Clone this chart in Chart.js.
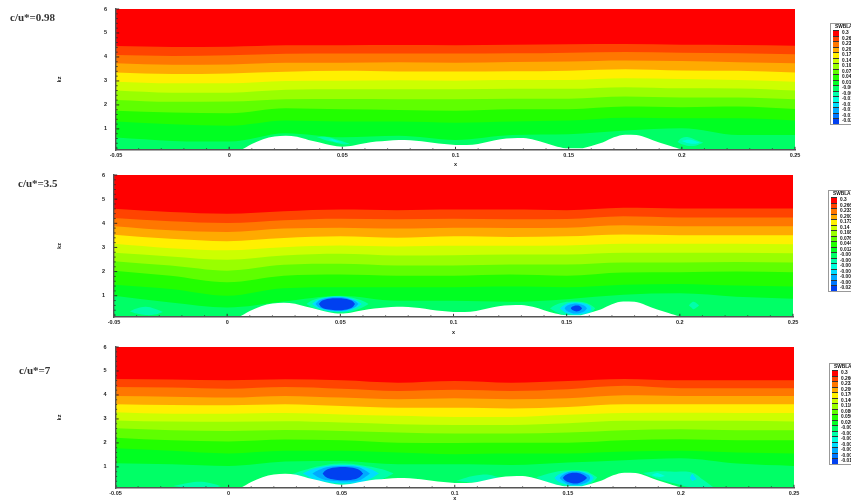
<!DOCTYPE html>
<html>
<head>
<meta charset="utf-8">
<script src="https://cdn.jsdelivr.net/npm/chart.js@4"></script>
<style>
html, body { margin: 0; padding: 0; background: #fff; width: 851px; height: 502px; overflow: hidden; }
canvas { position: absolute; left: 0; filter: blur(0.35px); }
.caption { position: absolute; font: bold 11px "Liberation Serif", serif; color: #333; white-space: nowrap; filter: blur(0.3px); }
.key { position: absolute; width: 42px; box-sizing: border-box; border: 1.5px solid #999; background: #fff; font: bold 4.8px "Liberation Sans", sans-serif; color: #111; filter: blur(0.25px); }
.key .head { height: 6px; line-height: 6px; padding-left: 4px; white-space: nowrap; }
.key .row { height: 5.5px; line-height: 5.5px; white-space: nowrap; }
.key .swatch { display: inline-block; width: 6.5px; height: 5.5px; margin: 0 3px 0 1.5px; vertical-align: top; box-sizing: border-box; border-top: 0.5px solid #333; }
</style>
</head>
<body>
<script>
const stationX = [-0.05, -0.025, 0, 0.025, 0.05, 0.075, 0.1, 0.125, 0.15, 0.175, 0.2, 0.225, 0.25];
const zFloor = 0.12;

const wallX = [-0.05, 0, 0.005, 0.01, 0.015, 0.02, 0.025, 0.03, 0.035, 0.04, 0.045, 0.05, 0.055, 0.06, 0.065, 0.07, 0.075, 0.08, 0.085, 0.09, 0.095, 0.1, 0.105, 0.11, 0.115, 0.12, 0.125, 0.13, 0.135, 0.14, 0.145, 0.15, 0.155, 0.16, 0.165, 0.17, 0.175, 0.18, 0.185, 0.19, 0.195, 0.2, 0.205, 0.25];
const wallZ = [0.05, 0.05, 0.12, 0.37, 0.57, 0.68, 0.71, 0.67, 0.54, 0.43, 0.32, 0.26, 0.31, 0.40, 0.47, 0.51, 0.54, 0.53, 0.49, 0.42, 0.37, 0.33, 0.33, 0.37, 0.47, 0.57, 0.61, 0.62, 0.54, 0.40, 0.26, 0.19, 0.19, 0.29, 0.43, 0.65, 0.76, 0.75, 0.61, 0.43, 0.29, 0.15, 0.10, 0.05];

const levelColors = ['#ff0000', '#ff4400', '#ff7700', '#ffaa00', '#fff000', '#ccff00', '#99ff00', '#5fff00', '#22ff00', '#00ff22', '#00ff66', '#00ffaa', '#00ffdd', '#00ddff', '#00aaff', '#0077ff', '#0040f0', '#0000cc'];

// lower edge of each colour band, red first
const bands098 = [
    [4.46, 4.42, 4.43, 4.49, 4.49, 4.50, 4.49, 4.51, 4.53, 4.54, 4.51, 4.50, 4.47],
    [4.08, 4.04, 4.07, 4.13, 4.14, 4.14, 4.14, 4.15, 4.18, 4.21, 4.18, 4.15, 4.11],
    [3.74, 3.68, 3.69, 3.76, 3.76, 3.78, 3.76, 3.79, 3.81, 3.85, 3.83, 3.78, 3.74],
    [3.35, 3.29, 3.31, 3.38, 3.42, 3.39, 3.39, 3.40, 3.43, 3.49, 3.44, 3.42, 3.35],
    [2.97, 2.90, 2.90, 3.00, 3.01, 3.03, 3.01, 3.04, 3.04, 3.11, 3.08, 3.04, 2.97],
    [2.60, 2.51, 2.51, 2.63, 2.65, 2.65, 2.65, 2.67, 2.67, 2.74, 2.69, 2.68, 2.60],
    [2.21, 2.13, 2.14, 2.24, 2.25, 2.24, 2.24, 2.26, 2.26, 2.35, 2.31, 2.31, 2.24],
    [1.76, 1.68, 1.65, 1.86, 1.82, 1.79, 1.76, 1.82, 1.82, 1.93, 1.90, 1.93, 1.83],
    [1.31, 1.19, 1.13, 1.35, 1.31, 1.31, 1.26, 1.31, 1.35, 1.47, 1.44, 1.44, 1.35],
    [0.64, 0.50, 0.47, 0.82, 0.65, 0.71, 0.54, 0.75, 0.78, 0.93, 1.03, 0.75, 0.75]
];
const bands35 = [
    [4.60, 4.47, 4.40, 4.50, 4.57, 4.54, 4.57, 4.57, 4.54, 4.64, 4.61, 4.61, 4.61],
    [4.22, 4.08, 4.01, 4.13, 4.19, 4.17, 4.19, 4.17, 4.18, 4.29, 4.24, 4.24, 4.24],
    [3.88, 3.71, 3.64, 3.78, 3.82, 3.78, 3.82, 3.81, 3.82, 3.92, 3.88, 3.88, 3.88],
    [3.53, 3.36, 3.26, 3.39, 3.46, 3.40, 3.46, 3.43, 3.46, 3.54, 3.51, 3.50, 3.50],
    [3.15, 2.97, 2.88, 3.01, 3.08, 3.04, 3.07, 3.07, 3.08, 3.15, 3.15, 3.15, 3.13],
    [2.78, 2.63, 2.49, 2.67, 2.74, 2.67, 2.68, 2.71, 2.71, 2.78, 2.78, 2.78, 2.76],
    [2.43, 2.25, 2.04, 2.28, 2.32, 2.25, 2.25, 2.29, 2.29, 2.38, 2.38, 2.40, 2.38],
    [2.04, 1.83, 1.56, 1.83, 1.88, 1.83, 1.83, 1.88, 1.83, 1.96, 1.97, 2.00, 1.97],
    [1.46, 1.28, 1.00, 1.31, 1.35, 1.35, 1.35, 1.38, 1.35, 1.46, 1.49, 1.42, 1.38],
    [1.00, 0.72, 0.51, 0.76, 1.00, 0.79, 0.79, 0.75, 0.86, 1.04, 1.10, 0.96, 0.88]
];
const bands7 = [
    [4.67, 4.64, 4.61, 4.65, 4.61, 4.51, 4.58, 4.51, 4.58, 4.67, 4.61, 4.61, 4.61],
    [4.33, 4.31, 4.26, 4.33, 4.26, 4.17, 4.22, 4.17, 4.24, 4.38, 4.28, 4.28, 4.28],
    [3.96, 3.93, 3.89, 3.96, 3.89, 3.82, 3.86, 3.82, 3.86, 3.99, 3.96, 3.96, 3.96],
    [3.61, 3.58, 3.57, 3.61, 3.54, 3.47, 3.47, 3.44, 3.50, 3.61, 3.61, 3.61, 3.61],
    [3.28, 3.22, 3.22, 3.25, 3.19, 3.13, 3.08, 3.08, 3.17, 3.25, 3.26, 3.25, 3.25],
    [2.94, 2.89, 2.88, 2.90, 2.85, 2.78, 2.75, 2.75, 2.82, 2.92, 2.92, 2.92, 2.89],
    [2.61, 2.53, 2.50, 2.54, 2.50, 2.43, 2.39, 2.39, 2.43, 2.53, 2.57, 2.53, 2.53],
    [2.22, 2.11, 2.06, 2.14, 2.11, 2.01, 2.00, 2.01, 2.01, 2.11, 2.15, 2.11, 2.11],
    [1.78, 1.67, 1.56, 1.67, 1.67, 1.60, 1.53, 1.56, 1.56, 1.64, 1.67, 1.60, 1.56],
    [1.15, 1.11, 1.04, 1.22, 1.25, 1.11, 1.11, 1.08, 1.18, 1.28, 1.36, 1.14, 1.04]
];

// closed contour islands: [colour level, x, upper z, lower z], outer ones first
const spots098 = [
    [11, [0.0387, 0.042, 0.046, 0.05, 0.0535], [0.66, 0.67, 0.60, 0.48, 0.36], [0.66, 0.55, 0.45, 0.36, 0.36]],
    [12, [0.044, 0.046, 0.048, 0.0505], [0.55, 0.56, 0.50, 0.44], [0.55, 0.49, 0.44, 0.44]],
    [11, [0.198, 0.2, 0.203, 0.206, 0.2095], [0.45, 0.62, 0.65, 0.55, 0.42], [0.45, 0.36, 0.29, 0.30, 0.42]],
    [12, [0.2, 0.203, 0.206, 0.208], [0.5, 0.55, 0.5, 0.42], [0.5, 0.40, 0.38, 0.42]]
];
const spots35 = [
    [11, [-0.043, -0.04, -0.036, -0.032, -0.0284], [0.36, 0.47, 0.54, 0.46, 0.33], [0.36, 0.26, 0.2, 0.22, 0.33]],
    [11, [0.204, 0.205, 0.206, 0.2075, 0.2085], [0.6, 0.7, 0.75, 0.68, 0.6], [0.6, 0.52, 0.44, 0.52, 0.6]],
    [11, [0.035, 0.038, 0.043, 0.0485, 0.054, 0.059, 0.0625], [0.66, 0.82, 0.94, 0.98, 0.94, 0.82, 0.66], [0.66, 0.50, 0.37, 0.31, 0.33, 0.48, 0.66]],
    [13, [0.0375, 0.04, 0.044, 0.0485, 0.053, 0.057, 0.0595], [0.66, 0.82, 0.93, 0.97, 0.93, 0.80, 0.66], [0.66, 0.50, 0.39, 0.35, 0.37, 0.50, 0.66]],
    [14, [0.039, 0.041, 0.045, 0.0485, 0.052, 0.056, 0.058], [0.66, 0.82, 0.92, 0.94, 0.92, 0.80, 0.66], [0.66, 0.50, 0.41, 0.37, 0.39, 0.50, 0.66]],
    [16, [0.0405, 0.042, 0.045, 0.0485, 0.052, 0.055, 0.0565], [0.66, 0.80, 0.88, 0.90, 0.88, 0.80, 0.66], [0.66, 0.50, 0.43, 0.40, 0.42, 0.50, 0.66]],
    [11, [0.1426, 0.145, 0.149, 0.154, 0.158, 0.161, 0.1626], [0.48, 0.62, 0.73, 0.76, 0.72, 0.6, 0.48], [0.48, 0.34, 0.2, 0.14, 0.16, 0.3, 0.48]],
    [13, [0.147, 0.149, 0.151, 0.154, 0.157, 0.16, 0.161], [0.48, 0.62, 0.70, 0.72, 0.70, 0.6, 0.48], [0.48, 0.33, 0.25, 0.21, 0.24, 0.33, 0.48]],
    [14, [0.149, 0.15, 0.152, 0.154, 0.156, 0.158, 0.159], [0.48, 0.58, 0.65, 0.68, 0.65, 0.58, 0.48], [0.48, 0.38, 0.3, 0.26, 0.29, 0.37, 0.48]],
    [16, [0.1518, 0.1525, 0.1535, 0.1543, 0.1555, 0.1562, 0.1568], [0.48, 0.55, 0.59, 0.6, 0.59, 0.54, 0.48], [0.48, 0.41, 0.37, 0.35, 0.37, 0.41, 0.48]]
];
const spots7 = [
    [11, [-0.0245, -0.018, -0.012, -0.007, -0.0034], [0.2, 0.33, 0.38, 0.3, 0.2], [0.2, 0.12, 0.1, 0.1, 0.2]],
    [11, [0.1007, 0.105, 0.11, 0.115, 0.12], [0.42, 0.55, 0.65, 0.67, 0.55], [0.42, 0.37, 0.37, 0.45, 0.55]],
    [11, [0.183, 0.19, 0.197, 0.205, 0.21, 0.2145], [0.75, 0.82, 0.8, 0.76, 0.45, 0.14], [0.75, 0.5, 0.32, 0.14, 0.12, 0.14]],
    [12, [0.187, 0.189, 0.191, 0.193], [0.66, 0.74, 0.7, 0.62], [0.66, 0.6, 0.58, 0.62]],
    [13, [0.204, 0.205, 0.206, 0.207], [0.55, 0.7, 0.6, 0.5], [0.55, 0.42, 0.45, 0.5]],
    [11, [0.028, 0.034, 0.041, 0.0505, 0.06, 0.068, 0.073], [0.7, 0.88, 1.05, 1.14, 1.05, 0.9, 0.72], [0.7, 0.55, 0.36, 0.25, 0.34, 0.5, 0.72]],
    [13, [0.0328, 0.037, 0.043, 0.0505, 0.058, 0.063, 0.0665], [0.72, 0.9, 1.03, 1.08, 1.03, 0.9, 0.72], [0.72, 0.52, 0.38, 0.31, 0.36, 0.52, 0.72]],
    [14, [0.037, 0.04, 0.044, 0.0505, 0.057, 0.06, 0.0625], [0.72, 0.88, 1.0, 1.04, 1.0, 0.88, 0.72], [0.72, 0.55, 0.44, 0.39, 0.42, 0.55, 0.72]],
    [16, [0.0415, 0.043, 0.046, 0.0505, 0.055, 0.058, 0.0595], [0.72, 0.86, 0.96, 1.0, 0.96, 0.86, 0.72], [0.72, 0.58, 0.48, 0.44, 0.47, 0.58, 0.72]],
    [11, [0.136, 0.14, 0.146, 0.153, 0.158, 0.161, 0.163], [0.56, 0.68, 0.82, 0.86, 0.82, 0.68, 0.56], [0.56, 0.4, 0.22, 0.14, 0.2, 0.36, 0.56]],
    [13, [0.144, 0.146, 0.149, 0.153, 0.157, 0.16, 0.1615], [0.54, 0.68, 0.79, 0.83, 0.79, 0.68, 0.54], [0.54, 0.38, 0.27, 0.21, 0.25, 0.38, 0.54]],
    [14, [0.1463, 0.148, 0.15, 0.153, 0.156, 0.159, 0.16], [0.54, 0.68, 0.78, 0.81, 0.78, 0.66, 0.54], [0.54, 0.4, 0.29, 0.25, 0.28, 0.4, 0.54]],
    [16, [0.1478, 0.149, 0.151, 0.153, 0.155, 0.157, 0.1585], [0.54, 0.66, 0.74, 0.76, 0.74, 0.66, 0.54], [0.54, 0.42, 0.34, 0.31, 0.33, 0.42, 0.54]]
];

const xTicks = [-0.05, 0, 0.05, 0.1, 0.15, 0.2, 0.25];
const yTicks = [1, 2, 3, 4, 5, 6];
const xMinor = [-0.04, -0.03, -0.02, -0.01, 0.01, 0.02, 0.03, 0.04, 0.06, 0.07, 0.08, 0.09, 0.11, 0.12, 0.13, 0.14, 0.16, 0.17, 0.18, 0.19, 0.21, 0.22, 0.23, 0.24];
const yMinor = [0.2, 0.4, 0.6, 0.8, 1.2, 1.4, 1.6, 1.8, 2.2, 2.4, 2.6, 2.8, 3.2, 3.4, 3.6, 3.8, 4.2, 4.4, 4.6, 4.8, 5.2, 5.4, 5.6, 5.8];

const key098 = ['0.3', '0.26', '0.23', '0.20', '0.17', '0.14', '0.10', '0.07', '0.04', '0.01', '-0.008', '-0.009', '-0.010', '-0.012', '-0.014', '-0.016', '-0.02'];
const key35 = ['0.3', '0.266', '0.233', '0.200', '0.173', '0.14', '0.108', '0.076', '0.044', '0.012', '-0.0005', '-0.002', '-0.0035', '-0.005', '-0.0065', '-0.008', '-0.02'];
const key7 = ['0.3', '0.266', '0.233', '0.200', '0.170', '0.140', '0.110', '0.080', '0.050', '0.020', '-0.001', '-0.002', '-0.004', '-0.005', '-0.006', '-0.008', '-0.01'];

function toPoints(xs, zs) {
    return zs.map(function(z, i) { return { x: xs[i], y: z }; });
}

function curve(xs, zs, color, fill, mode) {
    return {
        data: toPoints(xs, zs),
        showLine: true,
        pointRadius: 0,
        borderWidth: 0,
        backgroundColor: color,
        fill: fill,
        cubicInterpolationMode: mode,
        tension: 0.4
    };
}

// dataset 0 is painted last, so the wall goes first and the base band goes last
function buildDatasets(bands, spots) {
    const list = [curve(wallX, wallZ, '#ffffff', 'start', 'monotone')];
    spots.slice().reverse().forEach(function(s) {
        list.push(curve(s[1], s[2], levelColors[s[0]], '+1', 'default'));
        list.push(curve(s[1], s[3], levelColors[s[0]], false, 'default'));
    });
    bands.forEach(function(row, i) {
        list.push(curve(stationX, row, levelColors[i], 'end', 'monotone'));
    });
    list.push(curve([-0.05, 0.25], [zFloor, zFloor], levelColors[bands.length], 'end', 'monotone'));
    return list;
}

const inwardTicks = {
    id: 'inwardTicks',
    afterDatasetsDraw: function(chart) {
        const ctx = chart.ctx, a = chart.chartArea;
        ctx.save();
        ctx.strokeStyle = '#222';
        ctx.lineWidth = 0.9;
        ctx.beginPath();
        function xMark(v, len) {
            const p = chart.scales.x.getPixelForValue(v);
            ctx.moveTo(p, a.bottom);
            ctx.lineTo(p, a.bottom - len);
        }
        function yMark(v, len) {
            const p = chart.scales.y.getPixelForValue(v);
            ctx.moveTo(a.left, p);
            ctx.lineTo(a.left + len, p);
        }
        xTicks.forEach(function(v) { xMark(v, 3.2); });
        xMinor.forEach(function(v) { xMark(v, 1.6); });
        yTicks.forEach(function(v) { yMark(v, 3.2); });
        yMinor.forEach(function(v) { yMark(v, 1.6); });
        ctx.stroke();
        ctx.restore();
    }
};

function drawPanel(top, height, plotTop, plotBottom, plotLeft, plotRight, bands, spots) {
    const canvas = document.createElement('canvas');
    canvas.style.top = top + 'px';
    canvas.style.width = '851px';
    canvas.style.height = height + 'px';
    canvas.width = 851;
    canvas.height = height;
    document.body.appendChild(canvas);
    const tickFont = { family: '"Liberation Sans", sans-serif', size: 5.5, weight: 'bold' };
    new Chart(canvas, {
        type: 'scatter',
        data: { datasets: buildDatasets(bands, spots) },
        plugins: [inwardTicks],
        options: {
            responsive: false,
            animation: false,
            events: [],
            layout: { padding: { left: 56, right: 851 - plotRight, top: plotTop - top, bottom: 0 } },
            plugins: { legend: { display: false }, tooltip: { enabled: false } },
            scales: {
                x: {
                    type: 'linear',
                    min: -0.05,
                    max: 0.25,
                    afterBuildTicks: function(scale) { scale.ticks = xTicks.map(function(v) { return { value: v }; }); },
                    afterFit: function(scale) {
                        scale.height = height - (plotBottom - top);
                        scale.paddingLeft = 0;
                        scale.paddingRight = 0;
                    },
                    grid: { display: false, drawTicks: false },
                    border: { color: '#555', width: 1.4, z: 1 },
                    ticks: { font: tickFont, color: '#222', padding: 2, maxRotation: 0, autoSkip: false, callback: function(v) { return String(v); } },
                    title: { display: true, text: 'x', font: tickFont, color: '#222', padding: { top: 0, bottom: 0 } }
                },
                y: {
                    type: 'linear',
                    min: zFloor,
                    max: 6,
                    afterBuildTicks: function(scale) { scale.ticks = yTicks.map(function(v) { return { value: v }; }); },
                    afterFit: function(scale) {
                        scale.width = plotLeft - 56;
                        scale.paddingTop = 0;
                        scale.paddingBottom = 0;
                    },
                    grid: { display: false, drawTicks: false },
                    border: { color: '#555', width: 1.4, z: 1 },
                    ticks: { font: tickFont, color: '#222', padding: 9, autoSkip: false },
                    title: { display: true, text: 'kz', font: tickFont, color: '#222', padding: 0 }
                }
            }
        }
    });
}

function addCaption(text, left, top) {
    const el = document.createElement('div');
    el.className = 'caption';
    el.style.left = left + 'px';
    el.style.top = top + 'px';
    el.textContent = text;
    document.body.appendChild(el);
}

function addKey(labels, left, top) {
    const box = document.createElement('div');
    box.className = 'key';
    box.style.left = left + 'px';
    box.style.top = top + 'px';
    let html = '<div class="head">SWBLA</div>';
    labels.forEach(function(label, i) {
        html += '<div class="row"><span class="swatch" style="background:' + levelColors[i] + '"></span>' + label + '</div>';
    });
    box.innerHTML = html;
    document.body.appendChild(box);
}

drawPanel(0, 168, 9, 150, 116, 795, bands098, spots098);
drawPanel(168, 168, 175, 317, 114, 793, bands35, spots35);
drawPanel(336, 166, 347, 488, 115.5, 794, bands7, spots7);

addCaption('c/u*=0.98', 10, 11);
addCaption('c/u*=3.5', 18, 177);
addCaption('c/u*=7', 19, 364);

addKey(key098, 830, 23);
addKey(key35, 828, 190);
addKey(key7, 829, 363);
</script>
</body>
</html>
